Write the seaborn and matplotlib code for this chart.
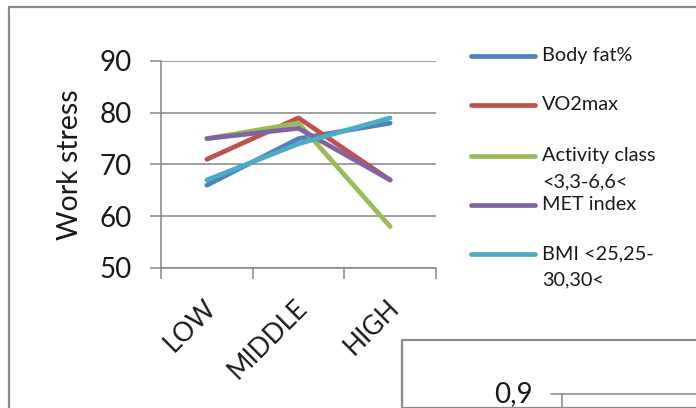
import matplotlib
matplotlib.use('Agg')
import matplotlib.pyplot as plt
import matplotlib.transforms as mtransforms
import seaborn as sns
import pandas as pd
from matplotlib.lines import Line2D
from matplotlib.patches import Rectangle

categories = ['LOW', 'MIDDLE', 'HIGH']
body_fat = [66, 75, 78]
vo2max = [71, 79, 67]
activity_class = [75, 78, 58]
met_index = [75, 77, 67]
bmi = [67, 74, 79]
series_names = ['Body fat%', 'VO2max', 'Activity class\n<3,3-6,6<', 'MET index', 'BMI <25,25-\n30,30<']
y_ticks = [50, 60, 70, 80, 90]
y_label = 'Work stress'
second_tick = '0,9'
colors = ['#4F81BD', '#C0504D', '#9BBB59', '#8064A2', '#4BACC6']

W, H = 696, 408
sns.set_theme(style='white')
plt.rcParams['font.family'] = ['Lato', 'DejaVu Sans']
fig = plt.figure(figsize=(W / 100, H / 100), dpi=100)
fig.patch.set_facecolor('white')


def fx(x):
    return x / W


def fy(y):
    return 1 - y / H


frame_c = '#8a8a8a'
# outer chart frame
fig.add_artist(Line2D([fx(9), fx(9)], [fy(7), 0], color=frame_c, lw=1.6))
fig.add_artist(Line2D([fx(9), 1], [fy(7), fy(7)], color=frame_c, lw=1.6))

rows = []
for name, vals in zip(series_names, [body_fat, vo2max, activity_class, met_index, bmi]):
    for c, v in zip(categories, vals):
        rows.append({'cat': c, 'value': v, 'series': name})
df = pd.DataFrame(rows)

ax = fig.add_axes([fx(161), fy(268), fx(436) - fx(161), fy(61) - fy(268)])
sns.lineplot(data=df, x='cat', y='value', hue='series', hue_order=series_names,
             palette=colors, lw=3.4, ax=ax, legend=False, sort=False,
             solid_capstyle='round', solid_joinstyle='round', zorder=3)
ax.set_xlim(-0.5, 2.5)
ax.set_ylim(50, 90)
ax.set_yticks(y_ticks)
ax.set_xticks(range(len(categories)))
ax.set_xticklabels(categories)
ax.set_xticks([-0.5, 0.5, 1.5, 2.5], minor=True)
ax.yaxis.grid(True, color='#868686', lw=1.1, zorder=0)
ax.set_axisbelow(True)
for s in ['top', 'right']:
    ax.spines[s].set_visible(False)
for s in ['left', 'bottom']:
    ax.spines[s].set_color('#868686')
    ax.spines[s].set_linewidth(1.1)
ax.tick_params(axis='y', which='major', direction='out', length=8, width=1.1,
               color='#868686', labelsize=20, pad=13, labelcolor='#1a1a1a', left=True)
ax.tick_params(axis='x', which='major', length=0, labelsize=19, pad=26, labelcolor='#1a1a1a')
ax.tick_params(axis='x', which='minor', direction='out', length=8, width=1.1,
               color='#868686', bottom=True)
shift = mtransforms.ScaledTranslation(5 / 100, 0, fig.dpi_scale_trans)
for lab in ax.get_xticklabels():
    lab.set_rotation(45)
    lab.set_ha('right')
    lab.set_va('center')
    lab.set_rotation_mode('anchor')
    lab.set_transform(lab.get_transform() + shift)
ax.set_xlabel('')
ax.set_ylabel(y_label, fontsize=20.5, color='#1a1a1a', labelpad=12)

# legend
leg_y = [56, 105, 156, 205, 254]
for name, c, y in zip(series_names, colors, leg_y):
    fig.add_artist(Line2D([fx(471), fx(535)], [fy(y), fy(y)], color=c, lw=3.4,
                          solid_capstyle='round'))
    lines = name.split('\n')
    fig.text(fx(542), fy(y), lines[0], fontsize=14.3, ha='left', va='center', color='#1a1a1a')
    if len(lines) > 1:
        fig.text(fx(542), fy(y + 26), lines[1], fontsize=14.3, ha='left', va='center',
                 color='#1a1a1a')

# second chart peeking in at the bottom right
fig.add_artist(Rectangle((fx(402), 0), 1 - fx(402) + 0.01, fy(340), facecolor='white',
                         edgecolor=frame_c, lw=1.6, zorder=5))
fig.text(fx(533), fy(394), second_tick, fontsize=20, ha='right', va='center',
         color='#1a1a1a', zorder=6)
fig.add_artist(Line2D([fx(551), 1], [fy(394), fy(394)], color='#868686', lw=1.1, zorder=6))
fig.add_artist(Line2D([fx(562), fx(562)], [fy(394), 0], color='#868686', lw=1.1, zorder=6))

fig.savefig('out.png', dpi=100)
